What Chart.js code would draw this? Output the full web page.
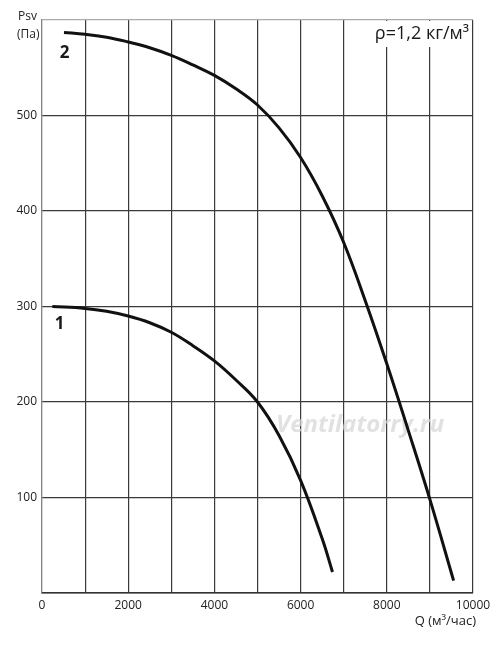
<!DOCTYPE html>
<html>
<head>
<meta charset="utf-8">
<script src="https://cdn.jsdelivr.net/npm/chart.js@4/dist/chart.umd.min.js"></script>
<style>
html,body{margin:0;padding:0;background:#fff;}
#wrap{width:500px;height:650px;}
</style>
</head>
<body>
<div id="wrap"><canvas id="c" width="500" height="650"></canvas></div>
<script>
// Data
const curve1Q = [240, 1000, 1500, 2000, 2500, 3000, 3500, 4000, 4500, 5000, 5500, 6000, 6500, 6740];
const curve1P = [300, 298, 295, 290, 283, 273, 259, 243, 223, 200, 165, 118, 57, 22];
const curve2Q = [510, 1000, 1500, 2000, 2500, 3000, 3500, 4000, 4500, 5000, 5500, 6000, 6500, 7000, 7500, 8000, 8500, 9000, 9550];
const curve2P = [587, 585, 582, 577, 571, 563, 553, 542, 528, 511, 487, 456, 416, 367, 306, 240, 170, 98, 13];
const xTickLabels = [0, 2000, 4000, 6000, 8000, 10000];
const yTickLabels = [100, 200, 300, 400, 500];

const FONT = "'Open Sans', 'Noto Sans', sans-serif";

function pts(q, p){ return q.map((v,i)=>({x:v, y:p[i]})); }

const textPlugin = {
  id: 'texts',
  beforeDatasetsDraw(chart){
    const ctx = chart.ctx;
    const ca = chart.chartArea;
    ctx.save();
    // watermark
    ctx.font = "italic bold 24px " + FONT;
    ctx.fillStyle = 'rgba(215,215,215,0.75)';
    ctx.textAlign = 'left';
    ctx.textBaseline = 'alphabetic';
    ctx.fillText('Ventilatorry.ru', 276, 432);
    // density box
    ctx.fillStyle = '#fff';
    ctx.fillRect(352, ca.top + 1, ca.right - 352 - 1, 26);
    ctx.fillStyle = '#1a1a1a';
    ctx.font = "18px " + FONT;
    ctx.textAlign = 'right';
    ctx.fillText('ρ=1,2 кг/м³', 469, 39);
    ctx.restore();
  },
  afterDatasetsDraw(chart){
    const ctx = chart.ctx;
    ctx.save();
    ctx.fillStyle = '#1a1a1a';
    ctx.textAlign = 'center';
    ctx.textBaseline = 'middle';
    ctx.font = "bold 17px " + FONT;
    ctx.fillText('2', 64.5, 53);
    ctx.fillText('1', 59.5, 324);
    ctx.font = "12px " + FONT;
    ctx.fillStyle = '#222';
    ctx.textAlign = 'left';
    ctx.fillText('Psv', 18, 17);
    ctx.fillText('(Па)', 17, 34.5);
    ctx.textAlign = 'right';
    ctx.font = "13px " + FONT;
    ctx.fillText('Q (м³/час)', 476, 621);
    ctx.restore();
  }
};

new Chart(document.getElementById('c'), {
  type: 'scatter',
  data: {
    datasets: [
      { data: pts(curve1Q, curve1P), showLine: true, borderColor: '#111', borderWidth: 3, pointRadius: 0, tension: 0.4, fill: false },
      { data: pts(curve2Q, curve2P), showLine: true, borderColor: '#111', borderWidth: 3, pointRadius: 0, tension: 0.4, fill: false }
    ]
  },
  options: {
    responsive: false,
    animation: false,
    events: [],
    layout: { padding: { top: 20, right: 27, left: 0, bottom: 0 } },
    plugins: { legend: { display: false }, tooltip: { enabled: false } },
    scales: {
      x: {
        type: 'linear', min: 0, max: 10000,
        afterFit(s){ s.height = 57; },
        border: { color: '#333', width: 1.5 },
        grid: {
          drawTicks: false,
          color: (c) => c.tick && c.tick.value === 0 ? '#888' : '#3a3a3a',
          lineWidth: 1.2
        },
        ticks: {
          stepSize: 1000, padding: 5, maxRotation: 0, autoSkip: false,
          color: '#222', font: { family: FONT, size: 12 },
          callback: (v) => xTickLabels.includes(v) ? String(v) : ''
        }
      },
      y: {
        type: 'linear', min: 0, max: 600,
        afterFit(s){ s.width = 42; },
        border: { color: '#888', width: 1.2 },
        grid: {
          drawTicks: false,
          color: (c) => c.tick && c.tick.value === 600 ? '#aaa' : '#3a3a3a',
          lineWidth: 1.2
        },
        ticks: {
          stepSize: 100, padding: 5, autoSkip: false,
          color: '#222', font: { family: FONT, size: 12 },
          callback: (v) => yTickLabels.includes(v) ? String(v) : ''
        }
      }
    }
  },
  plugins: [textPlugin]
});
</script>
</body>
</html>
